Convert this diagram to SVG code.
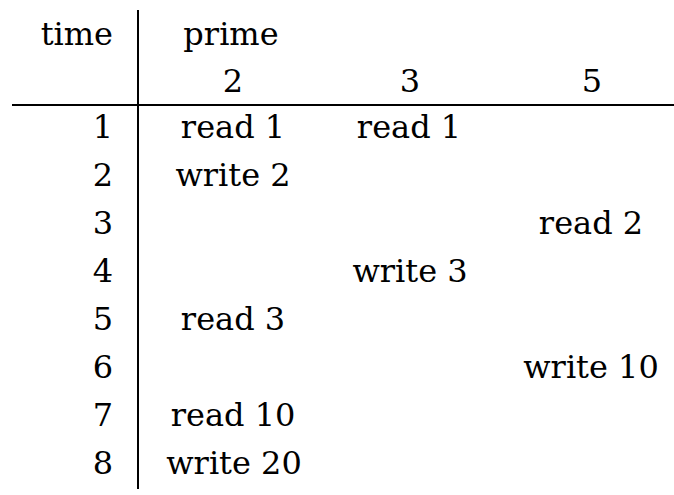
<svg xmlns="http://www.w3.org/2000/svg" width="674" height="495" viewBox="0 0 674 495">
<style>
text{font-family:"DejaVu Serif","Liberation Serif",serif;font-size:32px;fill:#000}
.r{text-anchor:end}
.c{text-anchor:middle}
line{stroke:#000;stroke-width:2}
</style>
<rect width="674" height="495" fill="#fff"/>
<g id="rules">
<line x1="138" y1="10" x2="138" y2="489"/>
<line x1="12" y1="105" x2="674" y2="105"/>
</g>
<g id="header">
<text class="r" x="113" y="45">time</text>
<text class="c" x="231" y="45">prime</text>
<text class="c" x="233" y="92">2</text>
<text class="c" x="410" y="92">3</text>
<text class="c" x="592" y="92">5</text>
</g>
<g id="time">
<text class="r" x="113" y="138">1</text>
<text class="r" x="113" y="186">2</text>
<text class="r" x="113" y="234">3</text>
<text class="r" x="113" y="282">4</text>
<text class="r" x="113" y="330">5</text>
<text class="r" x="113" y="378">6</text>
<text class="r" x="113" y="426">7</text>
<text class="r" x="113" y="474">8</text>
</g>
<g id="cells">
<text class="c" x="233" y="138">read 1</text>
<text class="c" x="409" y="138">read 1</text>
<text class="c" x="233" y="186">write 2</text>
<text class="c" x="591" y="234">read 2</text>
<text class="c" x="410" y="282">write 3</text>
<text class="c" x="233" y="330">read 3</text>
<text class="c" x="591" y="378">write 10</text>
<text class="c" x="233" y="426">read 10</text>
<text class="c" x="234" y="474">write 20</text>
</g>
</svg>
